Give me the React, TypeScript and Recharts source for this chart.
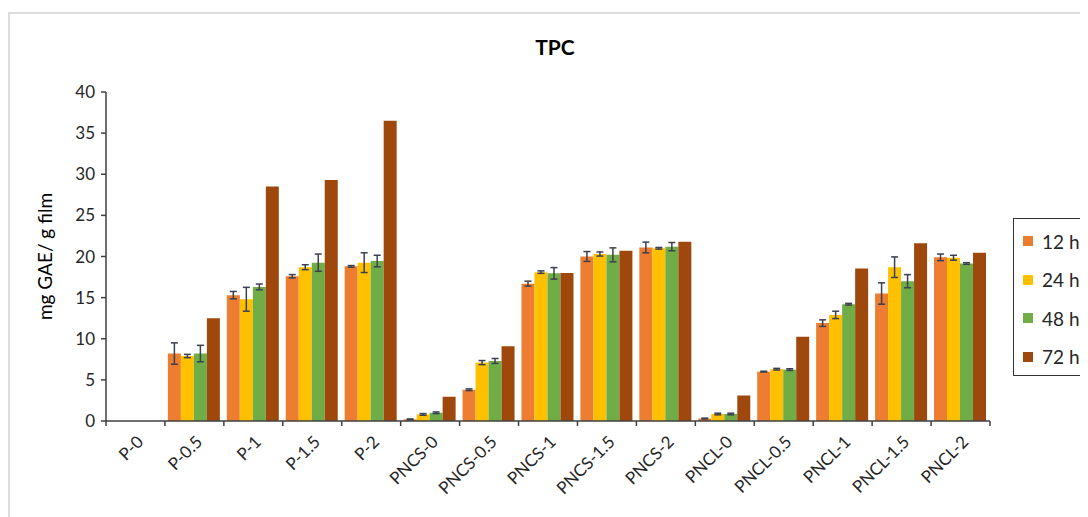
import React from "react"
import { BarChart, Bar, XAxis, YAxis, ErrorBar } from "recharts"

const categories = [
  "P-0", "P-0.5", "P-1", "P-1.5", "P-2",
  "PNCS-0", "PNCS-0.5", "PNCS-1", "PNCS-1.5", "PNCS-2",
  "PNCL-0", "PNCL-0.5", "PNCL-1", "PNCL-1.5", "PNCL-2",
]

const h12 = [0, 8.2, 15.3, 17.6, 18.8, 0.2, 3.8, 16.7, 20.0, 21.1, 0.3, 6.0, 11.9, 15.5, 19.9]
const err12 = [0, 1.3, 0.45, 0.2, 0.1, 0.05, 0.1, 0.3, 0.6, 0.65, 0.05, 0.05, 0.4, 1.3, 0.4]
const h24 = [0, 7.9, 14.8, 18.7, 19.25, 0.8, 7.1, 18.1, 20.3, 21.0, 0.85, 6.3, 12.9, 18.7, 19.85]
const err24 = [0, 0.2, 1.45, 0.3, 1.2, 0.1, 0.25, 0.15, 0.25, 0.1, 0.1, 0.1, 0.45, 1.25, 0.3]
const h48 = [0, 8.2, 16.3, 19.25, 19.45, 1.0, 7.3, 17.95, 20.2, 21.2, 0.85, 6.25, 14.2, 17.0, 19.15]
const err48 = [0, 1.0, 0.35, 1.05, 0.7, 0.1, 0.3, 0.7, 0.85, 0.5, 0.1, 0.1, 0.1, 0.8, 0.1]
const h72 = [0, 12.5, 28.5, 29.3, 36.5, 2.95, 9.1, 18.0, 20.7, 21.8, 3.1, 10.25, 18.55, 21.6, 20.45]

const yTicks = [0, 5, 10, 15, 20, 25, 30, 35, 40]

const series = [
  { key: "h12", err: "e12", name: "12 h", color: "#ED7D31" },
  { key: "h24", err: "e24", name: "24 h", color: "#FFC000" },
  { key: "h48", err: "e48", name: "48 h", color: "#70AD47" },
  { key: "h72", err: null, name: "72 h", color: "#9E480E" },
]

const data = categories.map((c, i) => ({
  name: c,
  h12: h12[i], e12: err12[i],
  h24: h24[i], e24: err24[i],
  h48: h48[i], e48: err48[i],
  h72: h72[i],
}))

const FONT = "Lato, 'Open Sans', sans-serif"
const AXIS = "#404040"

function XTick(props: any) {
  const { x, y, payload, index, width, visibleTicksCount } = props
  const band = width / visibleTicksCount
  const lx = x - band / 2
  const tx = x + 9
  const ty = y + 22
  return (
    <g>
      <line x1={lx} x2={lx} y1={y} y2={y + 5} stroke={AXIS} strokeWidth={1.5} />
      {index === visibleTicksCount - 1 && (
        <line x1={x + band / 2} x2={x + band / 2} y1={y} y2={y + 5} stroke={AXIS} strokeWidth={1.5} />
      )}
      <text
        x={tx}
        y={ty}
        textAnchor="end"
        transform={`rotate(-45, ${tx}, ${ty})`}
        fontSize={17}
        fontFamily={FONT}
        fill="#262626"
      >
        {payload.value}
      </text>
    </g>
  )
}

export default function App() {
  return (
    <div style={{ position: "relative", width: 1080, height: 509, background: "#fff", fontFamily: FONT }}>
      <div
        style={{
          position: "absolute", left: 0, top: 4, width: 1080, height: 505,
          borderTop: "2px solid #dcdcdc", borderLeft: "2px solid #dcdcdc",
        }}
      />
      <div
        style={{
          position: "absolute", left: 447, width: 200, top: 26, textAlign: "center",
          fontWeight: 700, fontSize: 21, color: "#000",
        }}
      >
        TPC
      </div>
      <BarChart
        width={1080}
        height={509}
        data={data}
        margin={{ top: 84, right: 98, bottom: 36, left: 48 }}
        barCategoryGap="5%"
        barGap={0}
        style={{ position: "absolute", left: 0, top: 0 }}
      >
        <XAxis
          dataKey="name"
          height={60}
          interval={0}
          tickLine={false}
          tickSize={0}
          tickMargin={0}
          axisLine={{ stroke: AXIS, strokeWidth: 1.5 }}
          tick={<XTick />}
        />
        <YAxis
          width={50}
          domain={[0, 40]}
          ticks={yTicks}
          interval={0}
          tickSize={5}
          tickMargin={6}
          axisLine={{ stroke: AXIS, strokeWidth: 1.5 }}
          tickLine={{ stroke: AXIS, strokeWidth: 1.5 }}
          tick={{ fontSize: 17, fontFamily: FONT, fill: "#262626" }}
          label={{
            value: "mg GAE/ g  film",
            angle: -90,
            position: "insideLeft",
            offset: -11,
            style: { textAnchor: "middle", fontSize: 19, fontFamily: FONT, fill: "#000", whiteSpace: "pre" },
          }}
        />
        {series.map((s) => (
          <Bar key={s.key} dataKey={s.key} name={s.name} fill={s.color} isAnimationActive={false}>
            {s.err && (
              <ErrorBar dataKey={s.err} width={3.5} stroke="#3a4150" strokeWidth={1.5} direction="y" />
            )}
          </Bar>
        ))}
      </BarChart>
      <div
        style={{
          position: "absolute", left: 1005, top: 210, width: 74, height: 153,
          border: "1.5px solid #333", paddingTop: 3, boxSizing: "content-box", background: "#fff",
        }}
      >
        {series.map((s) => (
          <div key={s.key} style={{ height: 38.5, display: "flex", alignItems: "center" }}>
            <span style={{ display: "inline-block", width: 10, height: 10, background: s.color, marginLeft: 9, marginRight: 9 }} />
            <span style={{ fontSize: 19, color: "#262626", whiteSpace: "nowrap" }}>{s.name}</span>
          </div>
        ))}
      </div>
    </div>
  )
}
